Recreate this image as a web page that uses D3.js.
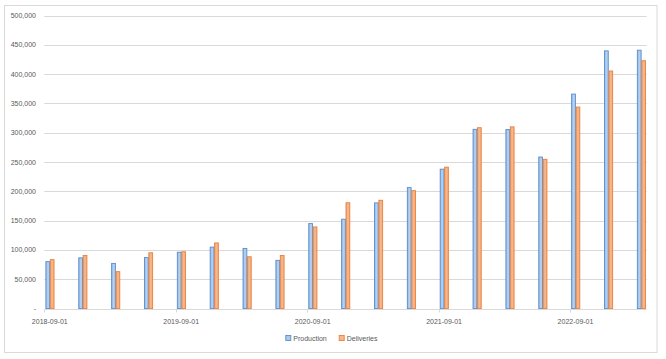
<!DOCTYPE html>
<html>
<head>
<meta charset="utf-8">
<script src="https://cdn.jsdelivr.net/npm/d3@7"></script>
<style>
  html, body { margin: 0; padding: 0; background: #ffffff; }
  svg { display: block; }
  text { font-family: "Liberation Sans", Arial, sans-serif; fill: #595959; }
</style>
</head>
<body>
<svg id="chart" width="666" height="359"></svg>
<script>
// ---- data ----
const categories = ["2018-09-01","2018-12-01","2019-03-01","2019-06-01","2019-09-01","2019-12-01",
  "2020-03-01","2020-06-01","2020-09-01","2020-12-01","2021-03-01","2021-06-01","2021-09-01",
  "2021-12-01","2022-03-01","2022-06-01","2022-09-01","2022-12-01","2023-03-01"];
const production = [80142, 86555, 77100, 87048, 96155, 104891, 102672, 82272, 145036, 152500,
  180338, 206421, 237823, 305840, 305407, 258580, 365923, 439701, 440808];
const deliveries = [83500, 90700, 63000, 95200, 97000, 112000, 88400, 90650, 139300, 180570,
  184800, 201250, 241300, 308600, 310048, 254695, 343830, 405278, 422875];
const seriesNames = ["Production", "Deliveries"];
const yTicks = [0, 50000, 100000, 150000, 200000, 250000, 300000, 350000, 400000, 450000, 500000];
const xTickLabels = ["2018-09-01", "2019-09-01", "2020-09-01", "2021-09-01", "2022-09-01"];

// ---- layout ----
const svg = d3.select("#chart");
const pLeft = 44.3, pRight = 646.7, pTop = 15.5, pBottom = 308.6;

const parse = d3.timeParse("%Y-%m-%d");
const fmtM = d3.timeFormat("%Y-%m");
const start = parse(categories[0]);
const end = d3.timeMonth.offset(parse(categories[categories.length - 1]), 1);
const months = d3.timeMonth.range(start, end).map(fmtM);

const x = d3.scaleBand().domain(months).range([pLeft, pRight]).paddingInner(0).paddingOuter(0);
const y = d3.scaleLinear().domain([0, 500000]).range([pBottom, pTop]);

// gradients
const defs = svg.append("defs");
function grad(id, c1, c2, c3) {
  const g = defs.append("linearGradient").attr("id", id).attr("x1", "0").attr("x2", "1").attr("y1", "0").attr("y2", "0");
  g.append("stop").attr("offset", "0%").attr("stop-color", c1);
  g.append("stop").attr("offset", "50%").attr("stop-color", c2);
  g.append("stop").attr("offset", "100%").attr("stop-color", c3);
}
grad("gBlue", "#8fb6e4", "#b4d1f1", "#a6c8ee");
grad("gOrange", "#d9a88a", "#f8b88c", "#f6aa78");

// outer border
svg.append("rect").attr("x", 4.5).attr("y", 5.5).attr("width", 652.5).attr("height", 347)
  .attr("fill", "#ffffff").attr("stroke", "#d9d9d9").attr("stroke-width", 1);

// gridlines
svg.append("g").selectAll("line").data(yTicks.filter(d => d > 0)).join("line")
  .attr("x1", pLeft).attr("x2", pRight)
  .attr("y1", d => Math.round(y(d)) + 0.5).attr("y2", d => Math.round(y(d)) + 0.5)
  .attr("stroke", "#d9d9d9").attr("stroke-width", 1);

// y labels
const yFmt = d3.format(",");
svg.append("g").selectAll("text").data(yTicks).join("text")
  .attr("x", 36).attr("y", d => y(d))
  .attr("dy", "0.35em").attr("text-anchor", "end")
  .attr("font-size", "7px")
  .text(d => d === 0 ? "-" : yFmt(d));

// bars
const groupW = x.bandwidth() * 0.8;
const barW = groupW / 2;
const series = [
  { name: seriesNames[0], values: production, fill: "url(#gBlue)", stroke: "#5a8ccb" },
  { name: seriesNames[1], values: deliveries, fill: "url(#gOrange)", stroke: "#ea7f3a" }
];
series.forEach((s, si) => {
  svg.append("g").selectAll("rect").data(categories).join("rect")
    .attr("x", d => x(fmtM(parse(d))) + (x.bandwidth() - groupW) / 2 + si * barW + 0.5)
    .attr("y", (d, i) => y(s.values[i]))
    .attr("width", barW - 0.6)
    .attr("height", (d, i) => pBottom - y(s.values[i]))
    .attr("fill", s.fill)
    .attr("stroke", s.stroke)
    .attr("stroke-width", 0.9);
});

// x axis line
svg.append("line").attr("x1", pLeft).attr("x2", pRight)
  .attr("y1", Math.round(pBottom) + 0.5).attr("y2", Math.round(pBottom) + 0.5)
  .attr("stroke", "#d9d9d9").attr("stroke-width", 1);

// x ticks and labels
const xAxisG = svg.append("g");
xTickLabels.forEach(lbl => {
  const m = fmtM(parse(lbl));
  const x0 = x(m);
  xAxisG.append("line").attr("x1", Math.round(x0) + 0.5).attr("x2", Math.round(x0) + 0.5)
    .attr("y1", Math.round(pBottom) + 0.5).attr("y2", Math.round(pBottom) + 3.5)
    .attr("stroke", "#d9d9d9");
  xAxisG.append("text").attr("x", x0 + x.bandwidth() / 2).attr("y", 321.5)
    .attr("dy", "0.35em").attr("text-anchor", "middle").attr("font-size", "7px").text(lbl);
});

// legend
const legend = svg.append("g");
const legItems = [
  { name: seriesNames[0], x: 285.3, fill: "#a9c9ee", stroke: "#5a8ccb" },
  { name: seriesNames[1], x: 338.7, fill: "#f8b88c", stroke: "#ea7f3a" }
];
legItems.forEach(it => {
  legend.append("rect").attr("x", it.x + 0.5).attr("y", 335.5).attr("width", 5).attr("height", 5)
    .attr("fill", it.fill).attr("stroke", it.stroke).attr("stroke-width", 0.9);
  legend.append("text").attr("x", it.x + 8).attr("y", 338.3).attr("dy", "0.35em")
    .attr("font-size", "7px").text(it.name);
});
</script>
</body>
</html>
